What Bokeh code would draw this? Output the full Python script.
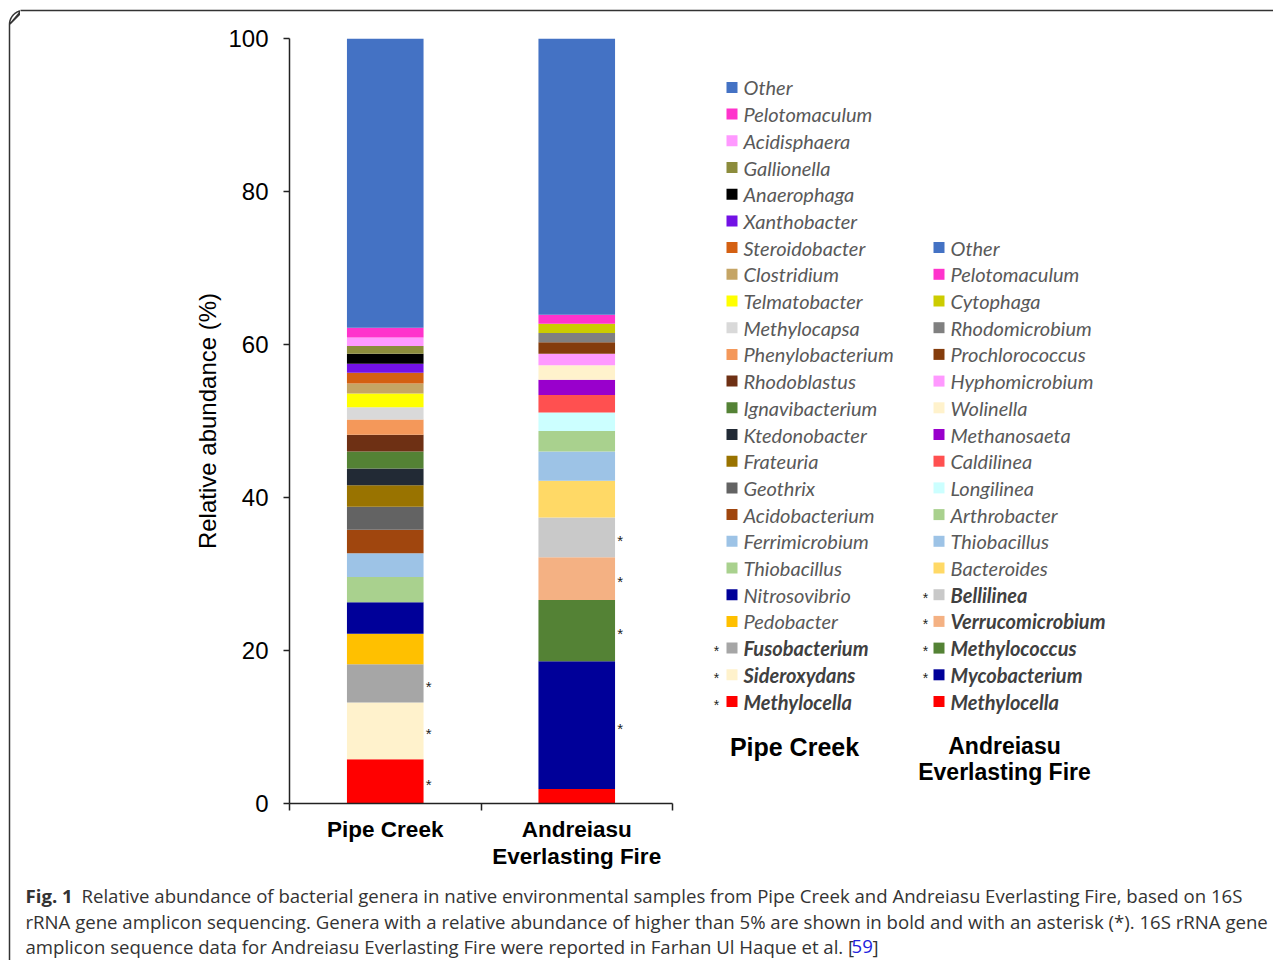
import numpy as np
from bokeh.plotting import figure
from bokeh.layouts import row, column
from bokeh.models import ColumnDataSource, FixedTicker, Range1d
from bokeh.embed import file_html
from bokeh.resources import INLINE
from bokeh.core.properties import value

# ---------------- data (stack order: bottom -> top) ----------------
sites = ["Pipe Creek", "Andreiasu\nEverlasting Fire"]
y_ticks = [0, 20, 40, 60, 80, 100]

pc_genera = ["Methylocella", "Sideroxydans", "Fusobacterium", "Pedobacter", "Nitrosovibrio",
             "Thiobacillus", "Ferrimicrobium", "Acidobacterium", "Geothrix", "Frateuria",
             "Ktedonobacter", "Ignavibacterium", "Rhodoblastus", "Phenylobacterium", "Methylocapsa",
             "Telmatobacter", "Clostridium", "Steroidobacter", "Xanthobacter", "Anaerophaga",
             "Gallionella", "Acidisphaera", "Pelotomaculum", "Other"]
pc_values = [5.8, 7.4, 5.0, 4.0, 4.1, 3.3, 3.1, 3.1, 3.0, 2.8, 2.2, 2.2, 2.2, 2.0, 1.6,
             1.8, 1.3, 1.4, 1.2, 1.3, 1.0, 1.1, 1.3, 37.8]
pc_colors = ["#FF0000", "#FFF2CC", "#A6A6A6", "#FFC000", "#000099", "#A9D18E", "#9DC3E6",
             "#A0460E", "#636363", "#997300", "#222A35", "#548235", "#6E3014", "#F4985A",
             "#D9D9D9", "#FFFF00", "#C5A565", "#D46012", "#7211E5", "#000000", "#8C8C3C",
             "#FF99FF", "#FF33CC", "#4472C4"]
pc_star = [True, True, True] + [False] * 21

ae_genera = ["Methylocella", "Mycobacterium", "Methylococcus", "Verrucomicrobium", "Bellilinea",
             "Bacteroides", "Thiobacillus", "Arthrobacter", "Longilinea", "Caldilinea",
             "Methanosaeta", "Wolinella", "Hyphomicrobium", "Prochlorococcus", "Rhodomicrobium",
             "Cytophaga", "Pelotomaculum", "Other"]
ae_values = [1.9, 16.7, 8.0, 5.6, 5.2, 4.8, 3.8, 2.7, 2.4, 2.3, 2.0, 1.9, 1.5, 1.5, 1.2,
             1.2, 1.2, 36.1]
ae_colors = ["#FF0000", "#000099", "#548235", "#F4B183", "#C9C9C9", "#FFD966", "#9DC3E6",
             "#A9D18E", "#CCFFFF", "#FF5050", "#9900CC", "#FFF2CC", "#FF99FF", "#843C0C",
             "#808080", "#CCCC00", "#FF33CC", "#4472C4"]
ae_star = [False, True, True, True, True] + [False] * 13
ae_bold = [True, True, True, True, True] + [False] * 13

caption_bold = "Fig. 1"
caption_l1 = ("Relative abundance of bacterial genera in native environmental samples from "
              "Pipe Creek and Andreiasu Everlasting Fire, based on 16S")
caption_l2 = ("rRNA gene amplicon sequencing. Genera with a relative abundance of higher than 5% "
              "are shown in bold and with an asterisk (*). 16S rRNA gene")
caption_l3 = "amplicon sequence data for Andreiasu Everlasting Fire were reported in Farhan Ul Haque et al. ["
caption_ref = "59"

# ---------------- layout constants (page px) ----------------
WT, HT = 1273, 960          # whole page block
SL, ST = 20, 20             # left strip width, top strip height
CHW, CHH = 680, 855         # chart figure size (page x 20..700, y 20..875)
FRAME_L, FRAME_R, FRAME_T, FRAME_B = 289, 672, 38, 803
LEG_W = WT - SL - CHW
CAP_H = HT - ST - CHH
BORDER = "#333333"


def blank(w, h, x0, x1, y0, y1, **kw):
    args = dict(min_border=0)
    args.update(kw)
    f = figure(width=w, height=h, x_range=Range1d(x0, x1), y_range=Range1d(y1, y0),
               output_backend="svg", toolbar_location=None,
               x_axis_location=None, y_axis_location=None, **args)
    f.outline_line_color = None
    f.xgrid.visible = False
    f.ygrid.visible = False
    f.background_fill_color = "white"
    f.border_fill_color = "white"
    return f


# ---------------- outer frame pieces ----------------
R = 14
left = blank(SL, HT, 0, SL, 0, HT)
ang = np.linspace(np.pi, 1.5 * np.pi, 20)
cx, cy = 9 + R, 10 + R
bx = [9, 9] + list(cx + R * np.cos(ang[::-1])) + [SL + 1]
by = [HT + 2, cy] + list(cy + R * np.sin(ang[::-1])) + [10]
left.line(bx, by, line_color=BORDER, line_width=1.5)

top = blank(WT - SL, ST, SL, WT, 0, ST)
top.line([SL - 1, WT + 1], [10, 10], line_color=BORDER, line_width=1.5)

# ---------------- chart ----------------
p = figure(width=CHW, height=CHH, x_range=Range1d(0, 2), y_range=Range1d(0, 100),
           output_backend="svg", toolbar_location=None,
           min_border_left=FRAME_L - SL, min_border_right=SL + CHW - FRAME_R,
           min_border_top=FRAME_T - ST, min_border_bottom=ST + CHH - FRAME_B)
p.outline_line_color = None
p.xgrid.visible = False
p.ygrid.visible = False
p.background_fill_color = "white"
p.border_fill_color = "white"

xs, bottoms, tops, cols = [], [], [], []
st_x, st_y = [], []
for i, (vals, colors, stars) in enumerate([(pc_values, pc_colors, pc_star),
                                           (ae_values, ae_colors, ae_star)]):
    acc = 0.0
    for v, c, s in zip(vals, colors, stars):
        xs.append(i + 0.5)
        bottoms.append(acc)
        tops.append(acc + v)
        cols.append(c)
        if s:
            st_x.append(i + 0.5 + 0.212)
            st_y.append(acc + v / 2.0 - 0.4)
        acc += v

src = ColumnDataSource(dict(x=xs, bottom=bottoms, top=tops, color=cols))
p.vbar(x="x", bottom="bottom", top="top", width=0.4, fill_color="color",
       line_color=None, source=src)
p.text(x=st_x, y=st_y, text=["*"] * len(st_x), text_align="left", text_baseline="middle",
       text_font=value("Liberation Sans"), text_font_size=value("15px"), text_color="#222222")

xa = p.xaxis[0]
xa.ticker = FixedTicker(ticks=[i + 0.5 for i in range(len(sites))],
                        minor_ticks=list(range(len(sites) + 1)))
xa.major_label_overrides = {i + 0.5: s for i, s in enumerate(sites)}
xa.major_tick_out = 0
xa.major_tick_in = 0
xa.minor_tick_out = 7
xa.minor_tick_in = 0
xa.major_label_standoff = 6
xa.major_label_text_font = "Liberation Sans"
xa.major_label_text_font_style = "bold"
xa.major_label_text_font_size = "22.5px"
xa.major_label_text_line_height = 1.1
xa.major_label_text_color = "#000000"
xa.axis_line_color = "#222222"
xa.axis_line_width = 1.5
xa.minor_tick_line_color = "#222222"
xa.minor_tick_line_width = 1.5

ya = p.yaxis[0]
ya.ticker = FixedTicker(ticks=y_ticks, minor_ticks=[])
ya.major_tick_out = 6
ya.major_tick_in = 0
ya.minor_tick_out = 0
ya.minor_tick_in = 0
ya.major_label_standoff = 15
ya.major_label_text_font = "Liberation Sans"
ya.major_label_text_font_size = "24px"
ya.major_label_text_color = "#000000"
ya.axis_line_color = "#222222"
ya.axis_line_width = 1.5
ya.major_tick_line_color = "#222222"
ya.major_tick_line_width = 1.5
ya.axis_label = "Relative abundance (%)"
ya.axis_label_text_font = "Liberation Sans"
ya.axis_label_text_font_style = "normal"
ya.axis_label_text_font_size = "24px"
ya.axis_label_text_color = "#000000"
ya.axis_label_standoff = 4

# ---------------- legend panel (frame aligned with chart frame) ----------------
leg = blank(LEG_W, CHH, SL + CHW, WT, FRAME_T, FRAME_B,
            min_border_top=FRAME_T - ST, min_border_bottom=ST + CHH - FRAME_B)
ROW0, ROWH, SQ = 701, 26.7, 11


def legend_column(genera, colors, stars, bolds, sq_left, txt_x, star_x):
    ys = [ROW0 - k * ROWH for k in range(len(genera))]
    leg.rect(x=[sq_left + SQ / 2] * len(ys), y=ys, width=SQ, height=SQ,
             fill_color=colors, line_color=None)
    leg.text(x=[txt_x] * len(ys), y=ys, text=genera, text_align="left",
             text_baseline="middle", text_font=value("Lato"), text_font_size=value("20px"),
             text_font_style=["bold italic" if b else "italic" for b in bolds],
             text_color=["#404040" if b else "#595959" for b in bolds])
    sy = [y + 3 for y, s in zip(ys, stars) if s]
    leg.text(x=[star_x] * len(sy), y=sy, text=["*"] * len(sy), text_align="center",
             text_baseline="middle", text_font=value("Liberation Sans"),
             text_font_size=value("14px"), text_color="#222222")


legend_column(pc_genera, pc_colors, pc_star, pc_star, 726, 743, 716)
legend_column(ae_genera, ae_colors, ae_star, ae_bold, 933, 950, 925)

leg.text(x=[794], y=[746], text=["Pipe Creek"], text_align="center", text_baseline="middle",
         text_font=value("Liberation Sans"), text_font_style="bold",
         text_font_size=value("25px"), text_color="#000000")
leg.text(x=[1004, 1004], y=[745, 771], text=["Andreiasu", "Everlasting Fire"],
         text_align="center", text_baseline="middle",
         text_font=value("Liberation Sans"), text_font_style="bold",
         text_font_size=value("23px"), text_color="#000000")

# ---------------- caption ----------------
cap = blank(WT - SL, CAP_H, SL, WT, ST + CHH, HT)
CAP_FONT, CAP_SIZE, CAP_COL = value("Open Sans"), value("18.6px"), "#333333"


def cap_text(t, x, y, style="normal", color=CAP_COL):
    cap.text(x=[x], y=[y], text=[t], text_align="left", text_baseline="middle",
             text_font=CAP_FONT, text_font_size=CAP_SIZE, text_font_style=style,
             text_color=color)


cap_text(caption_bold, 25, 895, "bold")
cap_text(caption_l1, 81, 895)
cap_text(caption_l2, 25, 921)
cap_text(caption_l3, 25, 946)
cap_text(caption_ref, 851, 946, color="#2222DD")
cap_text("]", 872, 946)

layout = row(left, column(top, row(p, leg), cap))
open("out.html", "w").write(file_html(layout, INLINE))
